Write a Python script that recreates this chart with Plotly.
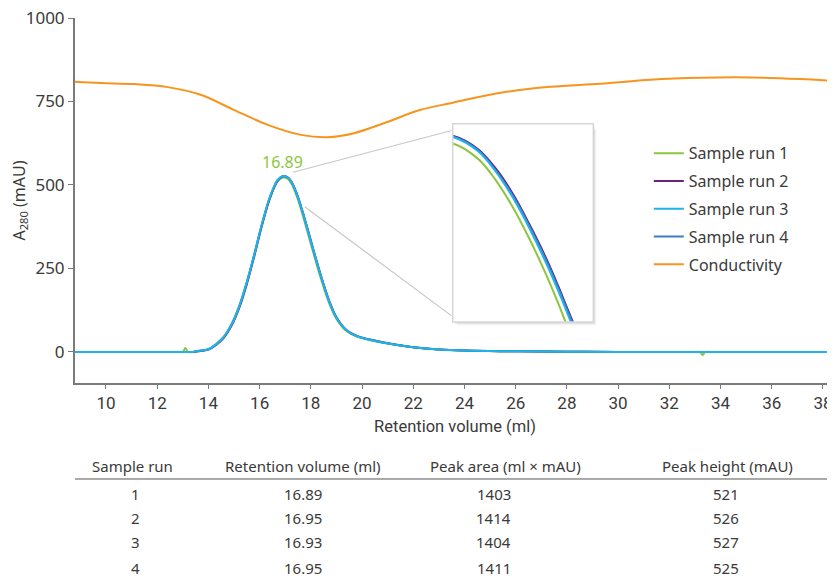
import plotly.graph_objects as go

# ---------------- data ----------------
vol = [8.79, 10.0, 11.0, 12.0, 12.8, 13.0, 13.1, 13.2, 13.4, 13.6, 14.0, 14.3, 14.6, 14.9, 15.2,
       15.5, 15.8, 16.1, 16.4, 16.7, 16.9, 17.03, 17.16, 17.25, 17.34, 17.42, 17.51, 17.57,
       17.62, 17.7, 17.9, 18.1, 18.4, 18.7, 19.0, 19.4, 19.8, 20.3, 21.0, 22.0, 23.0, 24.0,
       26.0, 28.0, 30.0, 33.0, 33.2, 33.3, 33.4, 33.6, 35.0, 36.5, 38.47]

run1 = [0, 0, 0, 0, 0, 0, 12, 0, 0, 3, 8, 24, 46, 83, 137,
        209, 294, 384, 460, 511, 522, 521.5, 513.5, 502.5, 488, 472.5, 453, 438.5,
        425.5, 405, 351, 296, 218, 149, 99, 62, 46, 36, 25, 14, 7, 4,
        2, 0.5, 0, 0, 0, -9, 0, 0, 0, 0, 0]
run2 = [0, 0, 0, 0, 0, 0, 0, 0, 0, 2, 7, 21, 42, 78, 131,
        203, 289, 381, 460, 512, 526, 525.5, 518.5, 508.5, 495, 480, 461.5, 447.5,
        435, 415, 361, 306, 227, 157, 104, 65, 48, 37, 26, 14, 7, 4,
        2, 0.5, 0, 0, 0, 0, 0, 0, 0, 0, 0]
run3 = [0, 0, 0, 0, 0, 0, 0, 0, 0, 3, 8, 23, 45, 82, 136,
        209, 295, 386, 464, 515, 527, 525, 517.5, 507, 493, 478, 459, 445,
        432.5, 412, 358, 303, 224, 154, 102, 64, 47, 36, 25, 14, 7, 4,
        2, 0.5, 0, 0, 0, 0, 0, 0, 0, 0, 0]
run4 = [0, 0, 0, 0, 0, 0, 0, 0, 0, 3, 8, 22, 44, 81, 135,
        208, 294, 385, 463, 514, 525, 525, 518, 507.5, 494, 479, 460.5, 446.5,
        434, 414, 360, 305, 226, 155, 103, 64, 47, 37, 26, 14, 7, 4,
        2, 0.5, 0, 0, 0, 0, 0, 0, 0, 0, 0]

cond_vol = [8.79, 9.80, 11.09, 12.42, 13.70, 14.99, 16.32, 17.61, 18.66, 19.68, 20.85, 22.29,
            23.46, 25.41, 27.36, 29.31, 31.26, 33.21, 35.16, 37.11, 38.47]
cond = [809, 805, 802, 793, 770, 725, 680, 650, 643, 655, 685, 725,
        745, 776, 794, 803, 815, 821, 822, 817, 811]

run_names = ["Sample run 1", "Sample run 2", "Sample run 3", "Sample run 4"]
run_colors = ["#8cc63f", "#6b2380", "#1eb4ea", "#3a7dc9"]
cond_color = "#f7941d"

peak_label = "16.89"
peak_label_x = 16.89
peak_label_y = 527

table_header = ["Sample run", "Retention volume (ml)", "Peak area (ml \u00d7 mAU)", "Peak height (mAU)"]
table_runs = ["1", "2", "3", "4"]
table_rv = ["16.89", "16.95", "16.93", "16.95"]
table_area = ["1403", "1414", "1404", "1411"]
table_height = ["521", "526", "527", "525"]

x_ticks = list(range(10, 40, 2))
y_ticks = [0, 250, 500, 750, 1000]

FONT = "Noto Sans"
NARROW = "Liberation Sans Narrow, Roboto, Noto Sans"
TXT = "#3a3a3a"

fig = go.Figure()

series = {0: run1, 1: run2, 2: run3, 3: run4}
draw_order = [0, 1, 3, 2]

fig.add_trace(go.Scatter(x=cond_vol, y=cond, mode="lines", name="Conductivity",
                         line=dict(color=cond_color, width=2, shape="spline"),
                         legendrank=5, legendgroup="g5"))
for i in draw_order:
    fig.add_trace(go.Scatter(x=vol, y=series[i], mode="lines", name=run_names[i],
                             line=dict(color=run_colors[i], width=2, shape="spline"),
                             legendrank=i + 1, legendgroup="g%d" % i))
# inset
for i in draw_order:
    fig.add_trace(go.Scatter(x=vol, y=series[i], mode="lines", showlegend=False,
                             line=dict(color=run_colors[i], width=2, shape="spline"),
                             xaxis="x2", yaxis="y2", hoverinfo="skip"))

axis_line = "#7a7a7a"
fig.update_layout(
    # the page body adds an 8px offset; margins compensate so the plot area lands at
    # x 75..835, y 18..383 in the window
    width=835, height=579,
    margin=dict(l=67, r=8, t=10, b=204),
    paper_bgcolor="white", plot_bgcolor="rgba(0,0,0,0)",
    font=dict(family=FONT, color=TXT, size=15),
    xaxis=dict(range=[8.79, 38.47], tickvals=x_ticks, ticks="outside", ticklen=4,
               tickcolor=axis_line, showline=True, linecolor=axis_line, linewidth=2,
               showgrid=False, zeroline=False, automargin=False, ticklabeloverflow="allow",
               tickfont=dict(family=NARROW, size=17, color=TXT),
               title=dict(text="Retention volume (ml)", font=dict(family=NARROW, size=16.5, color=TXT),
                          standoff=8)),
    yaxis=dict(range=[-93, 1000], tickvals=y_ticks, ticks="outside", ticklen=5,
               tickcolor=axis_line, showline=True, linecolor=axis_line, linewidth=2,
               showgrid=False, zeroline=False, automargin=False, ticklabeloverflow="allow",
               tickfont=dict(size=17, color=TXT),
               title=dict(text="A<sub>280</sub> (mAU)", font=dict(size=16, color=TXT), standoff=8)),
    xaxis2=dict(domain=[0.497, 0.682], range=[17.03, 17.75], anchor="y2",
                showticklabels=False, showgrid=False, zeroline=False, showline=False, ticks=""),
    yaxis2=dict(domain=[0.167, 0.710], range=[428.7, 531.7], anchor="x2",
                showticklabels=False, showgrid=False, zeroline=False, showline=False, ticks=""),
    legend=dict(x=0.755, y=0.676, xanchor="left", yanchor="top", traceorder="grouped",
                tracegroupgap=4, font=dict(size=16, color=TXT), bgcolor="rgba(0,0,0,0)",
                itemwidth=30),
    showlegend=True,
)

# inset box: shadow, fill, border
for k, a in enumerate([0.05, 0.08]):
    off = 0.015 + 0.012 * (1 - k)
    fig.add_shape(type="rect", xref="x2 domain", yref="y2 domain",
                  x0=0 + off, x1=1 + off * 0.8, y0=0 - off * 0.6, y1=1 - off,
                  fillcolor="rgba(0,0,0,%g)" % a, line=dict(width=0), layer="below")
fig.add_shape(type="rect", xref="x2 domain", yref="y2 domain", x0=0, x1=1, y0=0, y1=1,
              fillcolor="white", line=dict(width=0), layer="below")
fig.add_shape(type="rect", xref="x2 domain", yref="y2 domain", x0=0, x1=1, y0=0, y1=1,
              fillcolor="rgba(0,0,0,0)", line=dict(color="#d6d6d6", width=1.5), layer="above")

# connector lines
fig.add_shape(type="line", xref="x", yref="y", x0=17.3, y0=538, x1=23.5, y1=663,
              line=dict(color="#c8c8c8", width=1.2), layer="below")
fig.add_shape(type="line", xref="x", yref="y", x0=17.76, y0=435, x1=23.5, y1=108,
              line=dict(color="#c8c8c8", width=1.2), layer="below")

fig.add_annotation(x=peak_label_x, y=peak_label_y, text=peak_label, showarrow=False,
                   yanchor="bottom", yshift=1, font=dict(color="#8cc63f", size=16))

# table
hdr_x = [0.075, 0.300, 0.567, 0.858]
val_x = [0.080, 0.300, 0.551, 0.856]
hdr_y = -0.227
row_y = [-0.304, -0.370, -0.436, -0.507]
for hx, t in zip(hdr_x, table_header):
    fig.add_annotation(xref="paper", yref="paper", x=hx, y=hdr_y, text=t, showarrow=False,
                       xanchor="center", yanchor="middle", font=dict(size=15, color=TXT))
fig.add_shape(type="line", xref="paper", yref="paper", x0=0, x1=1, y0=-0.263, y1=-0.263,
              line=dict(color="#555", width=1))
cols = [table_runs, table_rv, table_area, table_height]
for cx, col in zip(val_x, cols):
    for ry, v in zip(row_y, col):
        fig.add_annotation(xref="paper", yref="paper", x=cx, y=ry, text=v, showarrow=False,
                           xanchor="center", yanchor="middle", font=dict(size=15, color=TXT))

fig.write_html("out.html")
